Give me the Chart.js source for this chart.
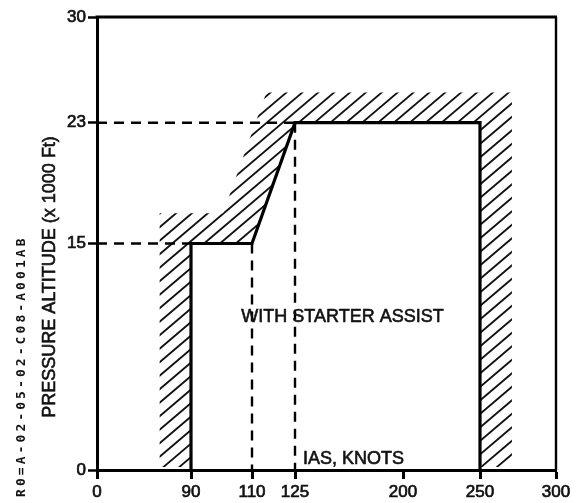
<!DOCTYPE html>
<html><head><meta charset="utf-8">
<script src="https://cdn.jsdelivr.net/npm/chart.js@4"></script>
<style>html,body{margin:0;padding:0;background:#fff;}#wrap{width:576px;height:503px;}</style>
</head><body><div id="wrap"><canvas id="c" width="576" height="503"></canvas></div>
<script>
// ---- schematic (non-uniform) speed axis ----
const speedTicks     = [0, 90, 110, 125, 200, 250, 300];
const speedTickSpan  = [0, 94, 155, 198, 306, 383, 459]; // relative axis length reached at each tick
const altitudeTicks  = [0, 15, 23, 30];

// ---- operating envelope (solid line) ----
const envelopeSpeed = [90, 90, 110, 125, 250, 250];
const envelopeAlt   = [0, 15, 15, 23, 23, 0];

// ---- hatched boundary, outer edge ----
const hatchSpeed = [60, 60, 100.5, 115, 271, 271];
const hatchAlt   = [0, 17, 17, 25, 25, 0];

// ---- dashed reference lines ----
const ref15Speed  = [0, 90];    const ref15Alt  = [15, 15];
const ref23Speed  = [0, 125];   const ref23Alt  = [23, 23];
const ref110Speed = [110, 110]; const ref110Alt = [15, 0];
const ref125Speed = [125, 125]; const ref125Alt = [23, 0];

const labelText   = 'WITH STARTER ASSIST';
const xTitleText  = 'IAS, KNOTS';
const yTitleText  = 'PRESSURE ALTITUDE (x 1000 Ft)';
const codeText    = 'R0=A-02-05-02-C08-A001AB';

function toAxis(v){
  for (let i = 1; i < speedTicks.length; i++){
    if (v <= speedTicks[i] || i === speedTicks.length - 1){
      const a = speedTicks[i-1], b = speedTicks[i];
      return speedTickSpan[i-1] + (v - a) / (b - a) * (speedTickSpan[i] - speedTickSpan[i-1]);
    }
  }
}
const pts = (xs, ys) => xs.map((x, i) => ({x: toAxis(x), y: ys[i]}));

const FONT = "'Liberation Sans', Arial, sans-serif";

const solid  = {showLine:true, borderColor:'#000', borderWidth:3.2, pointRadius:0, borderJoinStyle:'miter', borderCapStyle:'butt', fill:false};
const dashed = {showLine:true, borderColor:'#000', borderWidth:2.4, pointRadius:0, borderDash:[10,7], borderCapStyle:'butt', fill:false};

function heavyText(ctx, t, px, py){
  ctx.strokeText(t, px, py);
  ctx.fillText(t, px, py);
}

const hatchPlugin = {
  id:'hatch',
  beforeDatasetsDraw(chart){
    const {ctx, scales:{x, y}, chartArea:a} = chart;
    const outer = hatchSpeed.map((s,i)=>[x.getPixelForValue(toAxis(s)), y.getPixelForValue(hatchAlt[i])]);
    const inner = envelopeSpeed.map((s,i)=>[x.getPixelForValue(toAxis(s)), y.getPixelForValue(envelopeAlt[i])]).reverse();
    ctx.save();
    ctx.beginPath();
    ctx.rect(a.left, a.top, a.right - a.left, a.bottom - a.top - 3);
    ctx.clip();
    ctx.beginPath();
    outer.concat(inner).forEach((p,i)=> i ? ctx.lineTo(p[0],p[1]) : ctx.moveTo(p[0],p[1]));
    ctx.closePath();
    ctx.clip();
    ctx.strokeStyle = '#111';
    ctx.lineWidth = 1.8;
    const slope = 0.85, step = 13.5;
    const w = a.right - a.left;
    for (let b = a.top - 20; b < a.bottom + w * slope + 20; b += step){
      ctx.beginPath();
      ctx.moveTo(a.left, b);
      ctx.lineTo(a.right, b - w * slope);
      ctx.stroke();
    }
    ctx.restore();
  },
  afterDraw(chart){
    const {ctx, scales:{x, y}, chartArea:a} = chart;
    ctx.save();
    // top and right frame
    ctx.strokeStyle = '#000';
    ctx.lineWidth = 3;
    ctx.beginPath(); ctx.moveTo(a.left - 1.5, a.top); ctx.lineTo(a.right + 1, a.top); ctx.stroke();
    ctx.lineWidth = 2.4;
    ctx.beginPath(); ctx.moveTo(a.right, a.top); ctx.lineTo(a.right, a.bottom); ctx.stroke();
    // annotations
    ctx.fillStyle = '#111';
    ctx.strokeStyle = '#111';
    ctx.lineWidth = 0.6;
    ctx.font = '18px ' + FONT;
    ctx.textAlign = 'center'; ctx.textBaseline = 'middle';
    heavyText(ctx, labelText, x.getPixelForValue(toAxis(158)), y.getPixelForValue(10.1));
    ctx.textAlign = 'left';
    heavyText(ctx, xTitleText, x.getPixelForValue(toAxis(130.6)), y.getPixelForValue(0.7));
    // y title
    ctx.save();
    ctx.translate(50, 277);
    ctx.rotate(-Math.PI/2);
    ctx.textAlign = 'center';
    heavyText(ctx, yTitleText, 0, 0);
    ctx.restore();
    // drawing code
    ctx.save();
    ctx.translate(22, 497);
    ctx.rotate(-Math.PI/2);
    ctx.font = 'bold 13px "DejaVu Sans Mono", monospace';
    ctx.textAlign = 'left';
    for (let i = 0; i < codeText.length; i++) ctx.fillText(codeText[i], i * 10.9, 0);
    ctx.restore();
    ctx.restore();
  }
};

new Chart(document.getElementById('c'), {
  type:'scatter',
  data:{datasets:[
    Object.assign({data: pts(ref15Speed, ref15Alt)}, dashed),
    Object.assign({data: pts(ref23Speed, ref23Alt)}, dashed),
    Object.assign({data: pts(ref110Speed, ref110Alt)}, dashed),
    Object.assign({data: pts(ref125Speed, ref125Alt)}, dashed),
    Object.assign({data: pts(envelopeSpeed, envelopeAlt)}, solid)
  ]},
  options:{
    animation:false, responsive:false, devicePixelRatio:1,
    layout:{padding:{left:0, right:20, top:17, bottom:0}},
    plugins:{legend:{display:false}, tooltip:{enabled:false}},
    scales:{
      x:{
        type:'linear', min:0, max:toAxis(300),
        afterBuildTicks(s){ s.ticks = speedTicks.map(v => ({value: toAxis(v)})); },
        afterFit(s){ s.height = 33; },
        ticks:{autoSkip:false, maxRotation:0, padding:3, color:'#111', font:{family:FONT, size:17},
               textStrokeColor:'#111', textStrokeWidth:0.7,
               callback:(v, i) => String(speedTicks[i])},
        grid:{drawOnChartArea:false, drawTicks:true, tickLength:9, tickWidth:3, color:'#000'},
        border:{display:true, width:3, color:'#000'}
      },
      y:{
        type:'linear', min:0, max:30,
        afterBuildTicks(s){ s.ticks = altitudeTicks.map(v => ({value: v})); },
        afterFit(s){ s.width = 97; },
        ticks:{autoSkip:false, padding:2, color:'#111', font:{family:FONT, size:17},
               textStrokeColor:'#111', textStrokeWidth:0.7,
               callback:(v, i) => String(altitudeTicks[i])},
        grid:{drawOnChartArea:false, drawTicks:true, tickLength:9, tickWidth:2.5, color:'#000'},
        border:{display:true, width:3, color:'#000'}
      }
    }
  },
  plugins:[hatchPlugin]
});
</script>
</body></html>
